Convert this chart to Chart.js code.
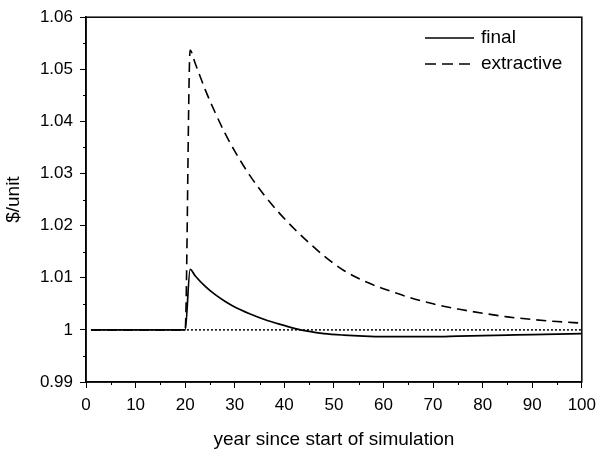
<!DOCTYPE html>
<html>
<head>
<meta charset="utf-8">
<script src="https://cdn.jsdelivr.net/npm/chart.js@4"></script>
<style>
  html, body { margin: 0; padding: 0; background: #fff; }
  #wrap { width: 603px; height: 451px; }
</style>
</head>
<body>
<div id="wrap"><canvas id="c" width="603" height="451"></canvas></div>
<script>
// data
var years = [1, 20, 21, 22, 24, 26, 28, 30, 33, 36, 39, 42, 45, 48, 52, 56, 60, 65, 70, 75, 80, 85, 90, 95, 100];
var finalPrice = [1, 1, 1.0116, 1.0104, 1.0084, 1.0068, 1.0055, 1.0044, 1.0031, 1.0020, 1.0011, 1.0003, 0.9997,
  0.9993, 0.9990, 0.9988, 0.9987, 0.9987, 0.9987, 0.9988, 0.9989, 0.9990, 0.9991, 0.9992, 0.9993];
var extractivePrice = [1, 1, 1.0537, 1.0512, 1.0462, 1.0418, 1.0378, 1.0343, 1.0297, 1.0258, 1.0224, 1.0194, 1.0167,
  1.0142, 1.0114, 1.0094, 1.0079, 1.0063, 1.0050, 1.0040, 1.0032, 1.0025, 1.0020, 1.0016, 1.0013];
var refYears = [1, 100];
var refLevel = [1, 1];
var xTicks = [0, 10, 20, 30, 40, 50, 60, 70, 80, 90, 100];
var yTicks = [0.99, 1, 1.01, 1.02, 1.03, 1.04, 1.05, 1.06];

function pts(xs, ys) {
  return xs.map(function (x, i) { return { x: x, y: ys[i] }; });
}

var FONT = 'Liberation Sans, Arial, Helvetica, sans-serif';

// frame, minor ticks and the legend box in the upper right
var extras = {
  id: 'extras',
  afterDraw: function (chart) {
    var ctx = chart.ctx, a = chart.chartArea;
    var xs = chart.scales.x, ys = chart.scales.y;
    ctx.save();
    ctx.strokeStyle = '#000';
    ctx.lineWidth = 1.5;
    ctx.strokeRect(a.left, a.top, a.right - a.left, a.bottom - a.top);
    ctx.lineWidth = 1;
    ctx.beginPath();
    for (var v = 5; v < 100; v += 10) {
      var px = Math.round(xs.getPixelForValue(v)) + 0.5;
      ctx.moveTo(px, a.bottom);
      ctx.lineTo(px, a.bottom + 3);
    }
    for (var k = 0; k < 7; k++) {
      var py = Math.round(ys.getPixelForValue(0.995 + k * 0.01)) + 0.5;
      ctx.moveTo(a.left, py);
      ctx.lineTo(a.left - 3, py);
    }
    ctx.stroke();

    // legend
    ctx.lineWidth = 1.4;
    ctx.font = '19px ' + FONT;
    ctx.fillStyle = '#000';
    ctx.textBaseline = 'middle';
    ctx.beginPath();
    ctx.moveTo(425, 38); ctx.lineTo(474, 38);
    ctx.stroke();
    ctx.fillText('final', 481, 38);
    ctx.setLineDash([11, 6]);
    ctx.beginPath();
    ctx.moveTo(425, 64); ctx.lineTo(474, 64);
    ctx.stroke();
    ctx.setLineDash([]);
    ctx.fillText('extractive', 481, 64);
    ctx.restore();
  }
};

new Chart(document.getElementById('c'), {
  type: 'line',
  data: {
    datasets: [{
      label: 'reference',
      data: pts(refYears, refLevel),
      borderColor: '#000',
      borderWidth: 1.5,
      borderDash: [2, 2],
      pointRadius: 0
    }, {
      label: 'extractive',
      data: pts(years, extractivePrice),
      borderColor: '#000',
      borderWidth: 1.6,
      borderDash: [10, 6],
      pointRadius: 0,
      cubicInterpolationMode: 'monotone'
    }, {
      label: 'final',
      data: pts(years, finalPrice),
      borderColor: '#000',
      borderWidth: 1.7,
      pointRadius: 0,
      cubicInterpolationMode: 'monotone'
    }]
  },
  options: {
    responsive: false,
    animation: false,
    layout: { padding: { left: 0, right: 21, top: 15, bottom: 0 } },
    plugins: { legend: { display: false }, tooltip: { enabled: false } },
    scales: {
      x: {
        type: 'linear',
        min: 0, max: 100,
        afterBuildTicks: function (s) { s.ticks = xTicks.map(function (v) { return { value: v }; }); },
        afterFit: function (s) { s.height = 69; },
        grid: { drawOnChartArea: false, tickLength: 6, color: '#000', lineWidth: 1 },
        border: { color: '#000', width: 1.5 },
        ticks: { color: '#000', font: { family: FONT, size: 17 }, padding: 7, maxRotation: 0 },
        title: { display: true, text: 'year since start of simulation', color: '#000',
          font: { family: FONT, size: 19 }, padding: { top: 4, bottom: 0 } }
      },
      y: {
        type: 'linear',
        min: 0.99, max: 1.06,
        afterBuildTicks: function (s) { s.ticks = yTicks.map(function (v) { return { value: v }; }); },
        afterFit: function (s) { s.width = 86; },
        grid: { drawOnChartArea: false, tickLength: 6, color: '#000', lineWidth: 1 },
        border: { color: '#000', width: 1.5 },
        ticks: {
          color: '#000', font: { family: FONT, size: 17 }, padding: 7,
          callback: function (v) { return String(Number(v.toFixed(2))); }
        },
        title: { display: true, text: '$/unit', color: '#000',
          font: { family: FONT, size: 19 }, padding: { top: 2, bottom: 4 } }
      }
    }
  },
  plugins: [extras]
});
</script>
</body>
</html>
